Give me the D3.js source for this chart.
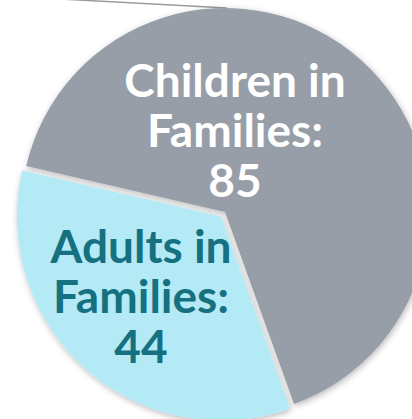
<!DOCTYPE html>
<html>
<head>
<meta charset="utf-8">
<script src="https://cdn.jsdelivr.net/npm/d3@7"></script>
<style>
  html, body { margin: 0; padding: 0; background: #fff; }
  svg { display: block; }
  text { font-family: "Lato", "Open Sans", sans-serif; font-weight: 700; }
</style>
</head>
<body>
<div id="pie"></div>
<script>
// chart data
var groups = ["Children in Families", "Adults in Families"];
var counts = [85, 44];
var labelLines = [["Children in", "Families:", "85"], ["Adults in", "Families:", "44"]];
var fills = ["#979ea8", "#b4e9f6"];
var textColors = ["#ffffff", "#15707f"];

var width = 412;
var height = 419;
var cx = 225, cy = 212;
var radius = 204;
var explode = [0, 6];          // only the adults slice is pulled out
var startDeg = -77;

var svg = d3.select("#pie")
  .append("svg")
  .attr("width", width)
  .attr("height", height);

// soft shadow round each slice
var defs = svg.append("defs");
var filt = defs.append("filter")
  .attr("id", "shadow")
  .attr("x", "-20%").attr("y", "-20%")
  .attr("width", "140%").attr("height", "140%");
filt.append("feDropShadow")
  .attr("dx", 1).attr("dy", 2)
  .attr("stdDeviation", 3)
  .attr("flood-color", "#000")
  .attr("flood-opacity", 0.28);

var data = groups.map(function(g, i) {
  return { name: g, value: counts[i], idx: i };
});

var start = startDeg * Math.PI / 180;
var pie = d3.pie()
  .sort(null)
  .value(function(d) { return d.value; })
  .startAngle(start)
  .endAngle(start + 2 * Math.PI);

var arc = d3.arc().innerRadius(0).outerRadius(radius);
var arcs = pie(data);

var g = svg.append("g").attr("transform", "translate(" + cx + "," + cy + ")");

// leader line from the top of the pie going off to the upper left
var topPt = d3.pointRadial(0.01, radius);
g.append("line")
  .attr("x1", topPt[0])
  .attr("y1", topPt[1])
  .attr("x2", topPt[0] - 400)
  .attr("y2", topPt[1] - 400 * 0.054)
  .attr("stroke", "#9b9b9b")
  .attr("stroke-width", 1.5);

g.selectAll("path.slice")
  .data(arcs)
  .enter()
  .append("path")
  .attr("class", "slice")
  .attr("d", arc)
  .attr("fill", function(d) { return fills[d.data.idx]; })
  .attr("filter", "url(#shadow)")
  .attr("transform", function(d) {
    var mid = (d.startAngle + d.endAngle) / 2;
    var p = d3.pointRadial(mid, explode[d.data.idx]);
    return "translate(" + p[0] + "," + p[1] + ")";
  });

// label anchors (first baseline of each text block, relative to pie centre)
var labelPos = [[10, -115], [-84, 51]];
var lineGap = 50;
var fontSize = 46;

labelLines.forEach(function(lines, i) {
  var t = g.append("text")
    .attr("text-anchor", "middle")
    .attr("fill", textColors[i])
    .style("font-size", fontSize + "px");
  lines.forEach(function(line, j) {
    t.append("tspan")
      .attr("x", labelPos[i][0])
      .attr("y", labelPos[i][1] + j * lineGap)
      .text(line);
  });
});
</script>
</body>
</html>
